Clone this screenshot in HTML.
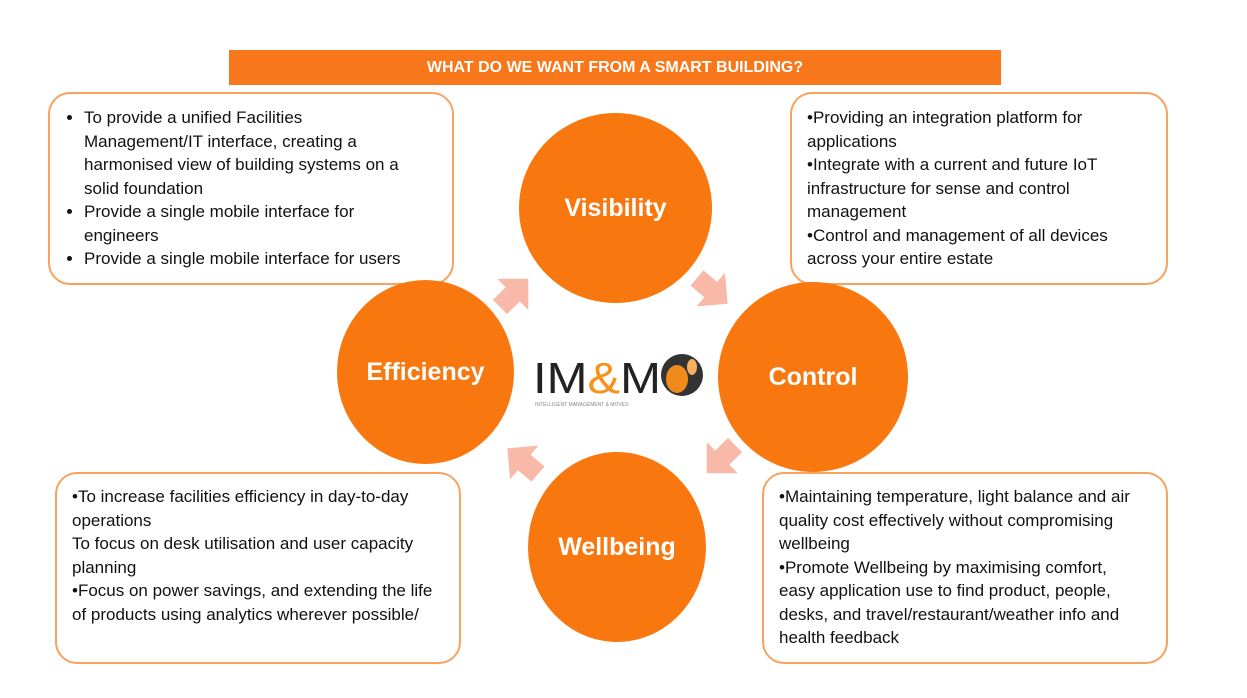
<!DOCTYPE html>
<html><head><meta charset="utf-8"><style>
body{margin:0;width:1247px;height:698px;background:#fff;position:relative;overflow:hidden;font-family:"Liberation Sans",sans-serif;}
.t{position:absolute;left:229px;top:50px;width:772px;height:35px;background:#f8771b;color:#fff;font-weight:bold;font-size:16px;text-align:center;line-height:36px;}
.b{position:absolute;border:2px solid #f8a25e;border-radius:22px;box-sizing:border-box;font-size:17px;line-height:23.5px;color:#111;}
.c{position:absolute;border-radius:50%;background:#f8770f;color:#fff;font-weight:bold;font-size:25px;display:flex;align-items:center;justify-content:center;}
ul{margin:0;padding:0 0 0 24px}
li{margin:0}
p{margin:0}
</style></head><body>
<div class="t">WHAT DO WE WANT FROM A SMART BUILDING?</div>
<div class="b" style="left:48px;top:92px;width:406px;height:193px;padding:12px 40px 0 10px;">
<ul><li>To provide a unified Facilities Management/IT interface, creating a harmonised view of building systems on a solid foundation</li><li>Provide a single mobile interface for engineers</li><li>Provide a single mobile interface for users</li></ul></div>
<div class="b" style="left:790px;top:92px;width:378px;height:193px;padding:12px 25px 0 15px;">
<p>•Providing an integration platform for applications</p><p>•Integrate with a current and future IoT infrastructure for sense and control management</p><p>•Control and management of all devices across your entire estate</p></div>
<div class="b" style="left:55px;top:472px;width:406px;height:192px;padding:11px 10px 0 15px;">
<p>•To increase facilities efficiency in day-to-day operations</p><p>To focus on desk utilisation and user capacity planning</p><p>•Focus on power savings, and extending the life of products using analytics wherever possible/</p></div>
<div class="b" style="left:762px;top:472px;width:406px;height:192px;padding:11px 10px 0 15px;">
<p>•Maintaining temperature, light balance and air quality cost effectively without compromising wellbeing</p><p>•Promote Wellbeing by maximising comfort,<br>easy application use to find product, people, desks, and travel/restaurant/weather info and health feedback</p></div>
<div class="c" style="left:519px;top:113px;width:193px;height:190px;">Visibility</div>
<div class="c" style="left:718px;top:282px;width:190px;height:190px;">Control</div>
<div class="c" style="left:337px;top:280px;width:177px;height:184px;">Efficiency</div>
<div class="c" style="left:528px;top:452px;width:178px;height:190px;">Wellbeing</div>
<svg style="position:absolute;left:0;top:0" width="1247" height="698">
<g fill="#f9b9a8">
<polygon points="0,-10 18,-10 18,-22 40,0 18,22 18,10 0,10" transform="translate(500,307) rotate(-45)"/>
<polygon points="0,-10 18,-10 18,-22 40,0 18,22 18,10 0,10" transform="translate(697,278) rotate(40)"/>
<polygon points="0,-10 18,-10 18,-22 40,0 18,22 18,10 0,10" transform="translate(735,445) rotate(135)"/>
<polygon points="0,-10 18,-10 18,-22 40,0 18,22 18,10 0,10" transform="translate(538,474) rotate(-140)"/>
</g>
<text x="533" y="393" font-family="Liberation Sans,sans-serif" font-size="44" fill="#222" textLength="128" lengthAdjust="spacingAndGlyphs">IM<tspan fill="#f8901a">&amp;</tspan>M</text>
<text x="535" y="406" font-family="Liberation Sans,sans-serif" font-size="5" fill="#888">INTELLIGENT MANAGEMENT &amp; MOVES</text>
<circle cx="682" cy="375" r="21" fill="#333"/>
<ellipse cx="677" cy="379" rx="11" ry="14" fill="#f08a1a"/>
<ellipse cx="692" cy="367" rx="5" ry="8" fill="#f6b060"/>
</svg>
</body></html>
